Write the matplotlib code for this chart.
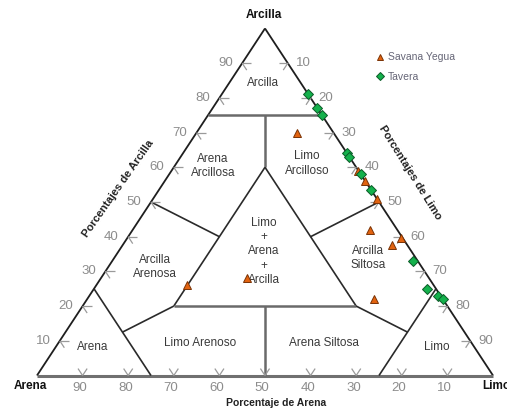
import matplotlib
matplotlib.use("Agg")
import matplotlib.pyplot as plt

plt.rcParams["font.family"] = ["Liberation Sans", "DejaVu Sans"]

# texture samples (percent sand / silt / clay)
savana_sand = [8, 0, 0, 0, 6, 0.5, 3.5, 15, 54, 40]
savana_silt = [22, 41, 44, 49, 52, 60, 59, 63, 20, 32]
savana_clay = [70, 59, 56, 51, 42, 39.5, 37.5, 22, 26, 28]

tavera_sand = [0, 0, 0, 0, 0, 0, 0, 1, 2, 0.5, 0]
tavera_silt = [19, 23, 25, 36, 37, 42, 46.5, 66, 73, 76.5, 78]
tavera_clay = [81, 77, 75, 64, 63, 58, 53.5, 33, 25, 23, 22]

tick_values = [10, 20, 30, 40, 50, 60, 70, 80, 90]

# class names and where they sit (x, y in plot units)
class_names = ["Arcilla", "Arena\nArcillosa", "Limo\nArcilloso", "Limo\n+\nArena\n+\nArcilla",
               "Arcilla\nArenosa", "Arcilla\nSiltosa", "Arena", "Limo Arenoso",
               "Arena Siltosa", "Limo"]
class_pos = [(49.6, 84.3), (38.6, 60.3), (59.2, 61.1), (49.8, 35.8), (25.9, 31.2),
             (72.6, 33.8), (12.3, 8.2), (35.7, 9.3), (62.9, 9.3), (87.7, 8.2)]


def tern(sand, silt, clay):
    return silt + clay / 2.0, clay


def seg(ax, a, b, color="#2a2a2a", lw=1.2):
    x0, y0 = tern(*a)
    x1, y1 = tern(*b)
    ax.plot([x0, x1], [y0, y1], color=color, lw=lw, solid_capstyle="butt", zorder=2)


fig = plt.figure(figsize=(5.07, 4.09), dpi=100)
ax = fig.add_axes([0, 0, 1, 1])
ax.set_xlim(-8.11, 103.07)
ax.set_ylim(-9.65, 108.2)
ax.axis("off")

# outer triangle
seg(ax, (100, 0, 0), (0, 0, 100), "#1e1e1e", 1.3)
seg(ax, (0, 0, 100), (0, 100, 0), "#1e1e1e", 1.3)
seg(ax, (100, 0, 0), (0, 100, 0), "#707070", 2.2)

# class boundaries
grey = "#6a6a6a"
seg(ax, (25, 0, 75), (0, 25, 75), grey, 1.8)
seg(ax, (12.5, 12.5, 75), (20, 20, 60), grey, 1.8)
seg(ax, (20, 20, 60), (60, 20, 20))
seg(ax, (20, 20, 60), (20, 60, 20))
seg(ax, (60, 20, 20), (20, 60, 20), grey, 1.8)
seg(ax, (50, 50, 0), (40, 40, 20), grey, 1.8)
seg(ax, (50, 0, 50), (40, 20, 40))
seg(ax, (0, 50, 50), (20, 40, 40))
seg(ax, (75, 0, 25), (75, 25, 0))
seg(ax, (75, 12.5, 12.5), (60, 20, 20))
seg(ax, (25, 75, 0), (0, 75, 25))
seg(ax, (12.5, 75, 12.5), (20, 60, 20))

# edge ticks
d = 2.0
tick_col = "#9a9a9a"
lbl = dict(color="#8c8c8c", fontsize=9.5, ha="center", va="center")
for v in tick_values:
    # bottom edge: sand
    p = (v, 100 - v, 0)
    seg(ax, p, (v, 100 - v - d, d), tick_col, 0.9)
    seg(ax, p, (v - d, 100 - v, d), tick_col, 0.9)
    x, y = tern(*p)
    ax.text(x - 0.6, y - 3.6, str(v), **lbl)
    # left edge: clay
    p = (100 - v, 0, v)
    seg(ax, p, (100 - v - d, d, v), tick_col, 0.9)
    seg(ax, p, (100 - v, d, v - d), tick_col, 0.9)
    x, y = tern(*p)
    ax.text(x - 3.7, y, str(v), **lbl)
    # right edge: silt
    p = (0, v, 100 - v)
    seg(ax, p, (d, v - d, 100 - v), tick_col, 0.9)
    seg(ax, p, (d, v, 100 - v - d), tick_col, 0.9)
    x, y = tern(*p)
    ax.text(x + 3.4, y, str(v), **lbl)

for name, (x, y) in zip(class_names, class_pos):
    ax.text(x, y, name, ha="center", va="center", fontsize=8.5, color="#3a3a3a",
            linespacing=1.25)

# corner and axis titles
ax.text(49.8, 103.9, "Arcilla", ha="center", va="center", fontsize=8.5,
        fontweight="bold", color="#111")
ax.text(-1.5, -3.0, "Arena", ha="center", va="center", fontsize=8.5,
        fontweight="bold", color="#111")
ax.text(97.6, -3.0, "Limo", ha="left", va="center", fontsize=8.5,
        fontweight="bold", color="#111")
ax.text(17.8, 53.9, "Porcentajes de Arcilla", ha="center", va="center", fontsize=8,
        fontweight="bold", color="#222", rotation=55)
ax.text(81.8, 58.6, "Porcentajes de Limo", ha="center", va="center", fontsize=8,
        fontweight="bold", color="#222", rotation=-58)
ax.text(52.4, -7.9, "Porcentaje de Arena", ha="center", va="center", fontsize=7.5,
        fontweight="bold", color="#222")

# samples
sx, sy = zip(*[tern(a, b, c) for a, b, c in zip(savana_sand, savana_silt, savana_clay)])
tx, ty = zip(*[tern(a, b, c) for a, b, c in zip(tavera_sand, tavera_silt, tavera_clay)])
ax.plot(sx, sy, "^", ms=5.8, mfc="#e2630f", mec="#7a3306", mew=0.7, ls="none",
        zorder=4, label="Savana Yegua")
ax.plot(tx, ty, "D", ms=4.6, mfc="#14b14c", mec="#0b5a27", mew=0.7, ls="none",
        zorder=5, label="Tavera")

leg = ax.legend(loc="upper left", bbox_to_anchor=(0.733, 0.885),
                bbox_transform=fig.transFigure, frameon=False, fontsize=7.5,
                handlelength=0.7, handletextpad=0.4, labelspacing=0.9,
                borderpad=0, markerscale=0.85)
for t in leg.get_texts():
    t.set_color("#666677")

fig.savefig("out.png", dpi=100)
